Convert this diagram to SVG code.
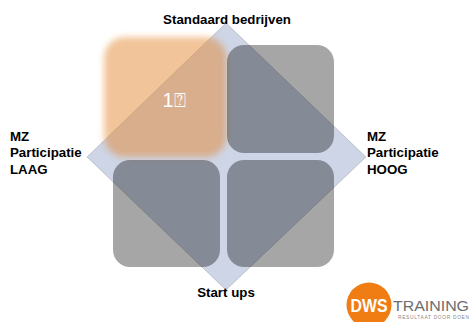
<svg xmlns="http://www.w3.org/2000/svg" width="471" height="322" viewBox="0 0 471 322">
<defs>
<filter id="soft" x="-10%" y="-10%" width="120%" height="120%"><feGaussianBlur stdDeviation="0.7"/></filter>
<filter id="glow" x="-15%" y="-15%" width="130%" height="130%"><feGaussianBlur stdDeviation="3"/></filter>
</defs>
<style>
.lbl{font-family:"Liberation Sans",Arial,sans-serif;font-weight:700;font-size:13.3px;fill:#000}
.q{fill:#000;fill-opacity:.35;filter:url(#soft)}
</style>
<rect width="471" height="322" fill="#fff"/>
<g id="diamond"><polygon points="226,23 366,157 226,290 87,157" fill="#cdd5e6" stroke="#000" stroke-opacity=".15" stroke-width="1"/></g>
<g id="node-q1"><rect x="104" y="37" width="122.500" height="120" rx="21" fill="#e4842a" fill-opacity=".48" filter="url(#glow)"/>
<text x="174" y="107" font-family="'Liberation Sans','DejaVu Sans',sans-serif" font-size="20" fill="#fff" text-anchor="middle">1⍰</text></g>
<g id="node-q2"><rect class="q" x="227" y="45" width="107" height="108" rx="17"/></g>
<g id="node-q3"><rect class="q" x="113" y="160" width="107" height="107" rx="17"/></g>
<g id="node-q4"><rect class="q" x="227" y="160" width="107" height="107" rx="17"/></g>
<g id="label-top"><text class="lbl" x="227" y="24" text-anchor="middle">Standaard bedrijven</text></g>
<g id="label-bottom"><text class="lbl" x="226" y="297" text-anchor="middle">Start ups</text></g>
<g id="label-left"><text class="lbl" x="10" y="141">MZ</text><text class="lbl" x="10" y="157">Participatie</text><text class="lbl" x="10" y="174">LAAG</text></g>
<g id="label-right"><text class="lbl" x="367" y="141">MZ</text><text class="lbl" x="367" y="157">Participatie</text><text class="lbl" x="367" y="174">HOOG</text></g>
<g id="logo">
<circle cx="369" cy="305" r="22.500" fill="#f07d14"/>
<text x="369" y="312" font-family="'Liberation Sans',sans-serif" font-weight="700" font-size="18" fill="#fff" text-anchor="middle" textLength="37" lengthAdjust="spacingAndGlyphs">DWS</text>
<text x="393" y="311" font-family="'Liberation Sans',sans-serif" font-size="15.500" fill="#6d6d6d" textLength="76" lengthAdjust="spacingAndGlyphs">TRAINING</text>
<text x="398" y="319" font-family="'Liberation Sans',sans-serif" font-size="4.800" fill="#888" textLength="71" lengthAdjust="spacing">RESULTAAT DOOR DOEN</text>
</g>
</svg>
